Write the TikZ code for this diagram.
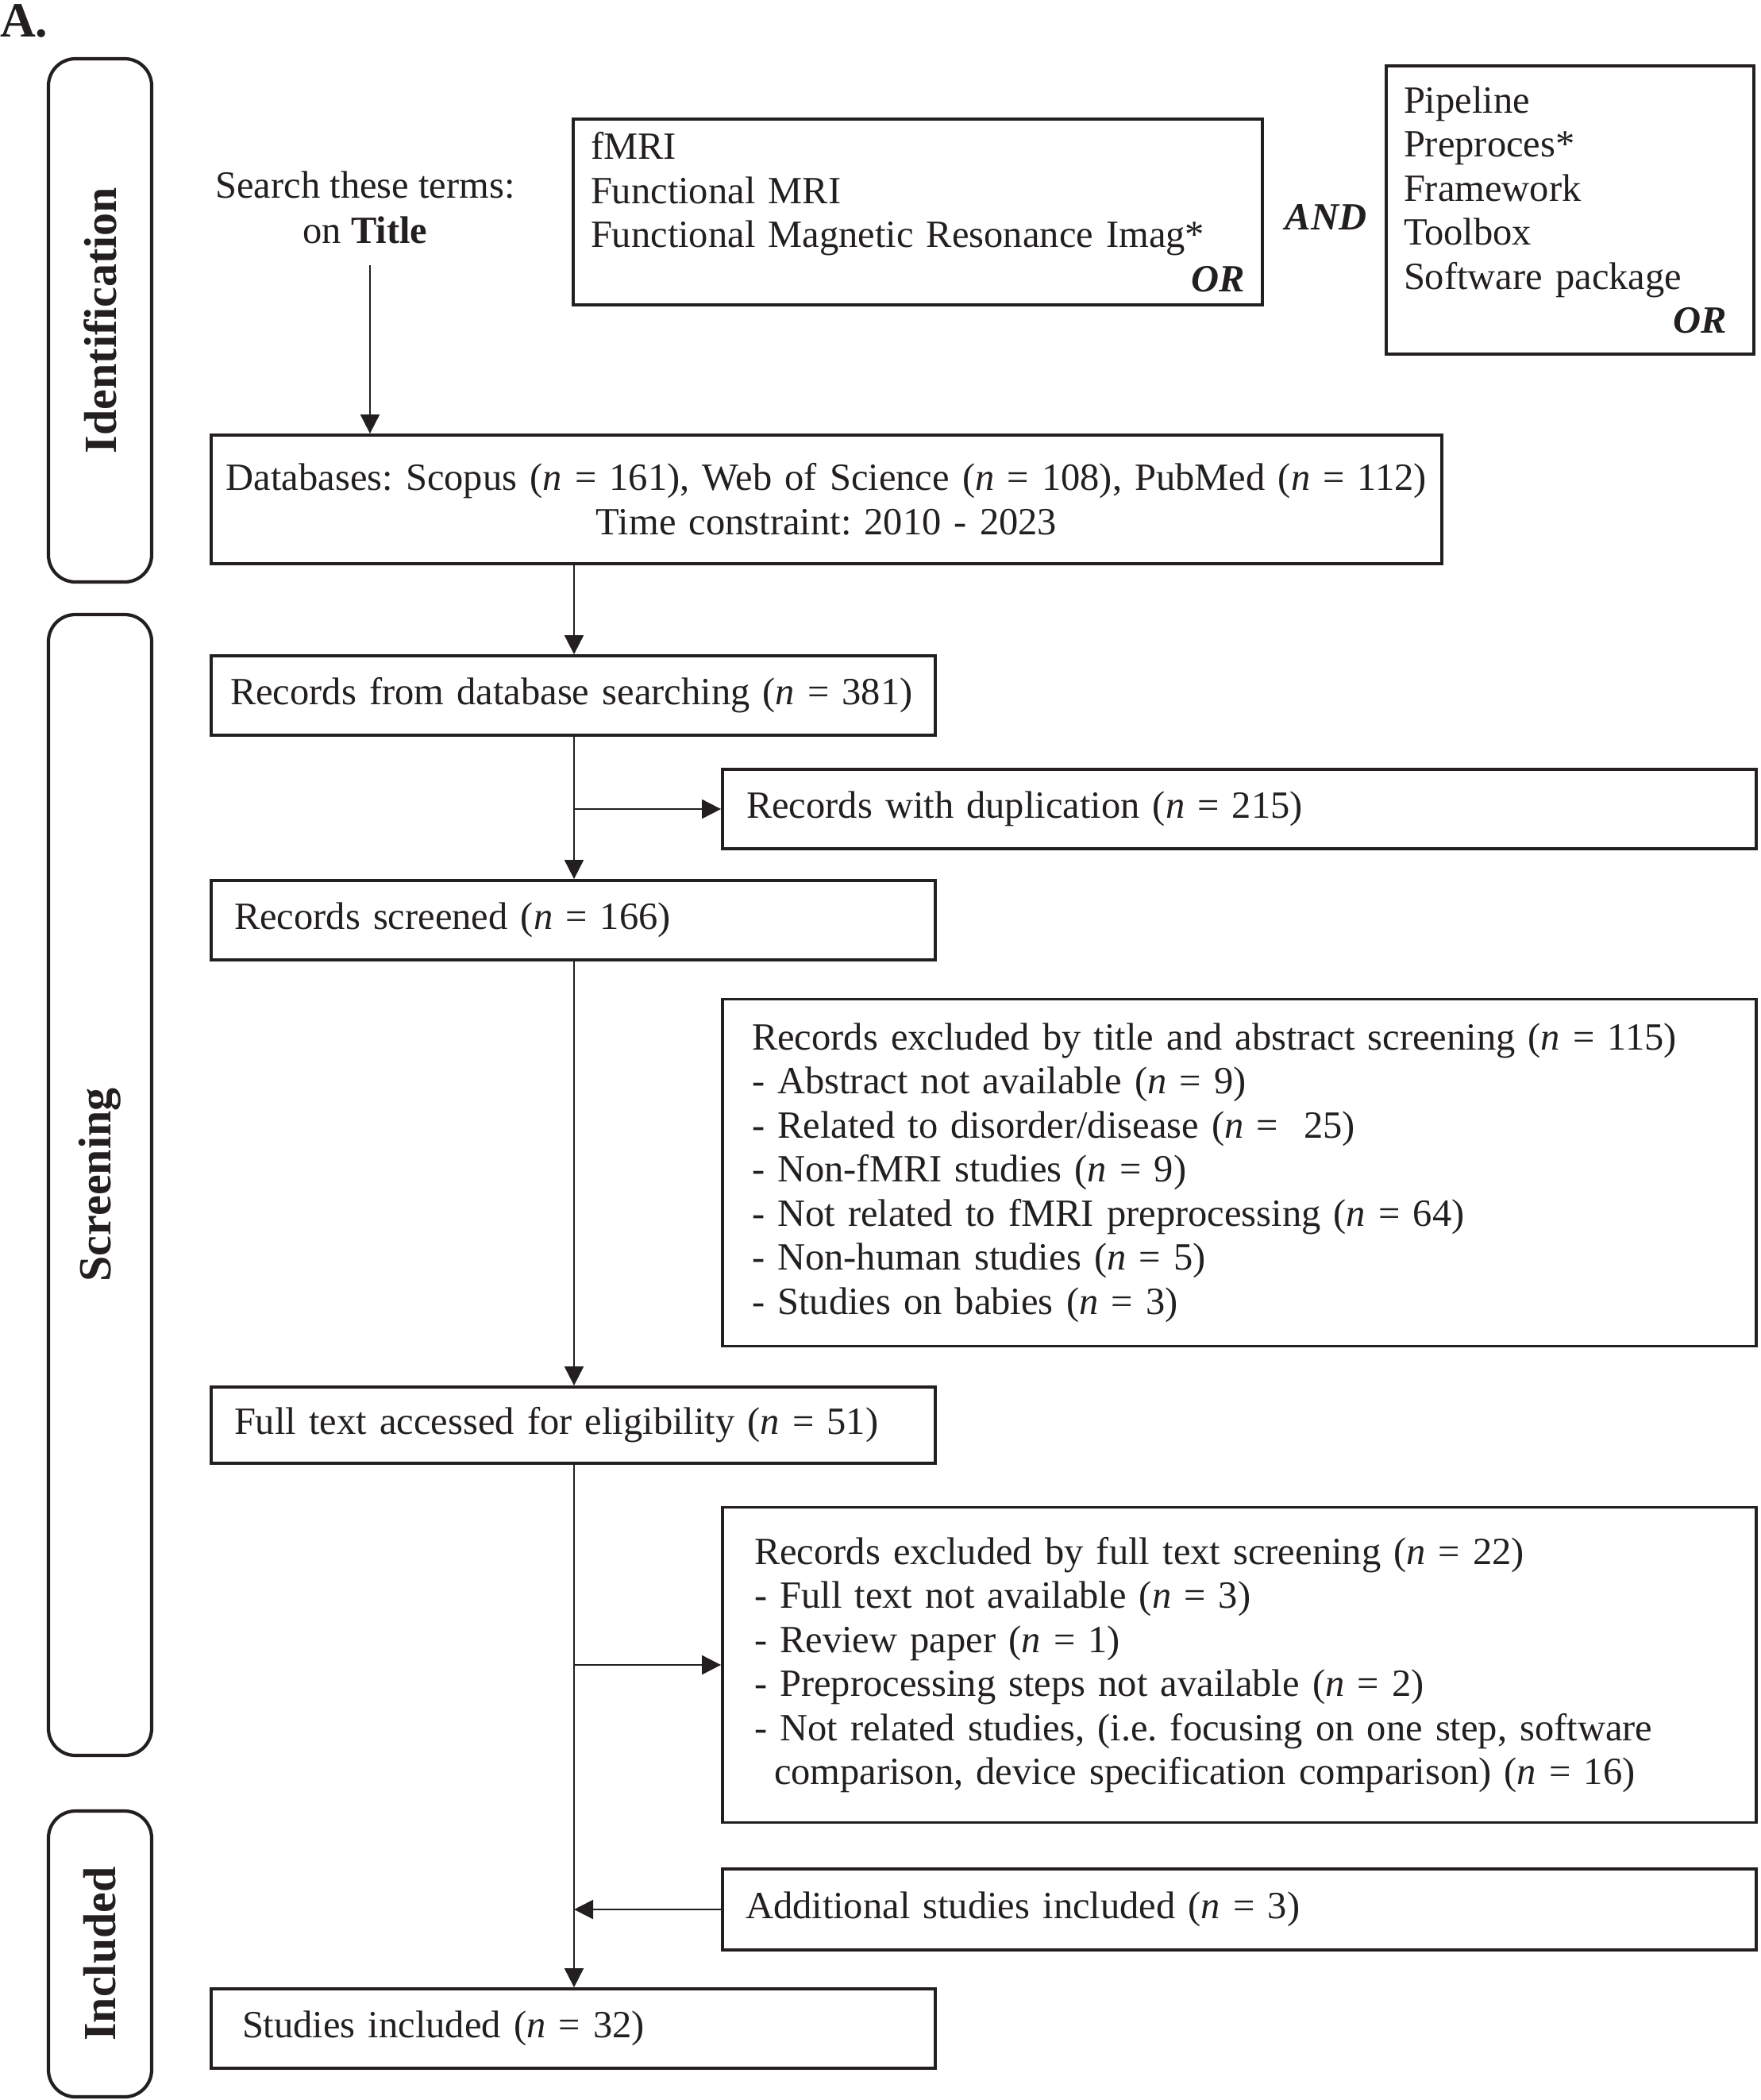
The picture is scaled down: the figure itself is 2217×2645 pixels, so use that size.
\documentclass[tikz,border=0pt]{standalone}
\usepackage{fontspec}
\setmainfont{Liberation Serif}
\usetikzlibrary{arrows.meta}
\definecolor{ink}{RGB}{35,31,32}
\newcommand\prbody{\fontsize{48.5}{55.5}\selectfont}
\newcommand\prstage{\fontsize{58}{62}\selectfont\bfseries}
\newcommand\prn{\textit{n}}
\frenchspacing
\begin{document}
\begin{tikzpicture}[x=1pt,y=-1pt,
  every node/.style={text=ink},
  box/.style={draw=ink, line width=3.8pt, rectangle, inner ysep=0pt, font=\prbody, align=left},
  stage/.style={draw=ink, line width=4.2pt, rounded corners=34pt, rectangle, rotate=90, minimum height=130pt, inner sep=0pt, font=\prstage},
  arr/.style={draw=ink, line width=2pt, -{Triangle[length=24pt,width=24pt]}}]
\useasboundingbox (0,0) rectangle (2217,2645);

\node[anchor=base west, font=\fontsize{62}{66}\selectfont\bfseries, inner sep=0pt, text height=44pt, text depth=0pt] (lab) at (0,46) {A.};

% stage boxes
\node[stage, minimum width=659pt] (ident) at (126,403.5) {Identification};
\node[stage, minimum width=1437pt] (screen) at (126,1492.5) {Screening};
\node[stage, minimum width=360pt] (incl) at (126,2461) {Included};

% search terms
\node[font=\fontsize{48.5}{57}\selectfont, align=center, inner sep=0pt] (search) at (460,261) {Search these terms:\\on \textbf{Title}};
\coordinate (sa) at (466,334);

\node[box, minimum width=868pt, minimum height=234pt, inner xsep=22pt, text width=824pt] (fmri) at (1156,267)
  {fMRI\\Functional MRI\\Functional Magnetic Resonance Imag*\\\mbox{}\hfill\textbf{\textit{OR}}};
\node[font=\prbody\bfseries\itshape, anchor=base, inner sep=0pt] (and) at (1670,289) {AND};
\node[box, minimum width=463pt, minimum height=363pt, inner xsep=22pt, text width=419pt] (pipe) at (1977.5,264.5)
  {Pipeline\\Preproces*\\Framework\\Toolbox\\Software package\\\mbox{}\hfill\textbf{\textit{OR}}\hspace*{12pt}};

\node[box, align=center, minimum width=1550pt, minimum height=162pt, inner xsep=10pt, text width=1530pt] (db) at (1041,629)
  {\mbox{Databases: Scopus (\prn{} = 161), Web of Science (\prn{} = 108), PubMed (\prn{} = 112)}\\Time constraint: 2010 - 2023};

\node[box, minimum width=912pt, minimum height=100pt, inner xsep=24pt, text width=864pt] (rec) at (722,876)
  {\mbox{Records from database searching (\prn{} = 381)}};
\node[box, minimum width=1302pt, minimum height=100pt, inner xsep=30pt, text width=1242pt] (dup) at (1561,1019)
  {\mbox{Records with duplication (\prn{} = 215)}};
\node[box, minimum width=912pt, minimum height=100pt, inner xsep=29pt, text width=854pt] (scr) at (722,1159)
  {\mbox{Records screened (\prn{} = 166)}};
\node[box, minimum width=1302pt, minimum height=437pt, inner xsep=37pt, text width=1228pt] (ex1) at (1561,1477)
  {Records excluded by title and abstract screening (\prn{} = 115)\\
   - Abstract not available (\prn{} = 9)\\
   - Related to disorder/disease (\prn{} =\ \ 25)\\
   - Non-fMRI studies (\prn{} = 9)\\
   - Not related to fMRI preprocessing (\prn{} = 64)\\
   - Non-human studies (\prn{} = 5)\\
   - Studies on babies (\prn{} = 3)};
\node[box, minimum width=912pt, minimum height=96pt, inner xsep=29pt, text width=854pt] (full) at (722,1795)
  {\mbox{Full text accessed for eligibility (\prn{} = 51)}};
\node[box, minimum width=1302pt, minimum height=397pt, inner xsep=40pt, text width=1222pt] (ex2) at (1561,2097)
  {Records excluded by full text screening (\prn{} = 22)\\
   - Full text not available (\prn{} = 3)\\
   - Review paper (\prn{} = 1)\\
   - Preprocessing steps not available (\prn{} = 2)\\
   - \mbox{Not related studies, (i.e. focusing on one step, software}\\
   \hspace*{25pt}\mbox{comparison, device specification comparison) (\prn{} = 16)}};
\node[box, minimum width=1302pt, minimum height=102pt, inner xsep=29pt, text width=1244pt] (add) at (1561,2405)
  {\mbox{Additional studies included (\prn{} = 3)}};
\node[box, minimum width=912pt, minimum height=100pt, inner xsep=39pt, text width=834pt] (inc) at (722,2555)
  {\mbox{Studies included (\prn{} = 32)}};

\coordinate (mx) at (723,0);

% connectors
\draw[arr] (sa) -- (sa |- db.north);
\draw[arr] (db.south -| mx) -- (rec.north -| mx);
\draw[arr] (rec.south -| mx) -- (scr.north -| mx);
\draw[arr] (dup.west -| mx) -- (dup.west);
\draw[arr] (scr.south -| mx) -- (full.north -| mx);
\draw[arr] (full.south -| mx) -- (inc.north -| mx);
\draw[arr] (ex2.west -| mx) -- (ex2.west);
\draw[arr] (add.west) -- (add.west -| mx);
\end{tikzpicture}
\end{document}
